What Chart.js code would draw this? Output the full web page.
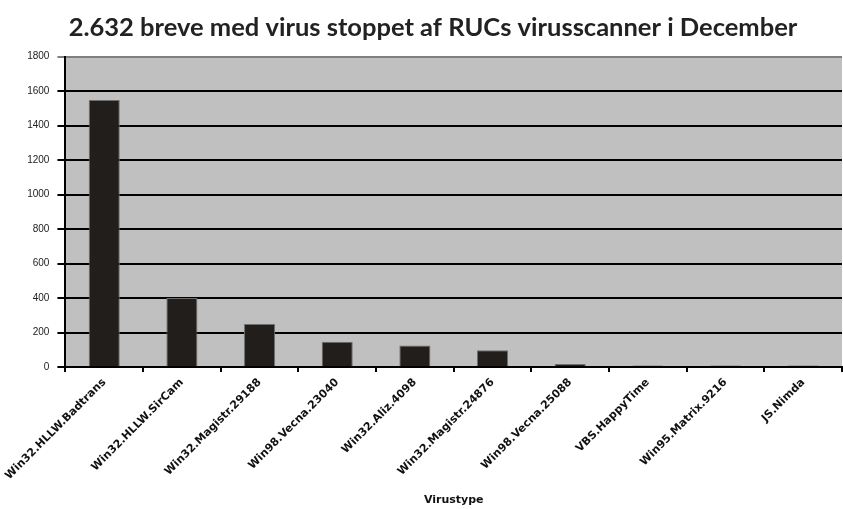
<!DOCTYPE html>
<html>
<head>
<meta charset="utf-8">
<script src="https://cdn.jsdelivr.net/npm/chart.js@4"></script>
<style>
  html, body { margin: 0; padding: 0; background: #fff; }
  #wrap { width: 843px; height: 509px; }
</style>
</head>
<body>
<div id="wrap"><canvas id="chart" width="843" height="509"></canvas></div>
<script>
const categories = ['Win32.HLLW.Badtrans', 'Win32.HLLW.SirCam', 'Win32.Magistr.29188', 'Win98.Vecna.23040',
  'Win32.Aliz.4098', 'Win32.Magistr.24876', 'Win98.Vecna.25088', 'VBS.HappyTime', 'Win95.Matrix.9216', 'JS.Nimda'];
const letters = [1548, 400, 250, 147, 124, 97, 18, 8, 8, 8];
const yTicks = [0, 200, 400, 600, 800, 1000, 1200, 1400, 1600, 1800];

// grey plot background like the old spreadsheet chart
const plotBg = {
  id: 'plotBg',
  beforeDraw(chart) {
    const { ctx, chartArea: a } = chart;
    ctx.save();
    ctx.fillStyle = '#c0c0c0';
    ctx.fillRect(a.left, a.top, a.right - a.left, a.bottom - a.top);
    ctx.restore();
  }
};

const ctx = document.getElementById('chart').getContext('2d');
new Chart(ctx, {
  type: 'bar',
  data: {
    labels: categories,
    datasets: [{
      data: letters,
      backgroundColor: '#221e1b',
      borderColor: '#6e6e6e',
      borderWidth: 1,
      barPercentage: 0.4,
      categoryPercentage: 1
    }]
  },
  options: {
    responsive: false,
    animation: false,
    layout: { padding: { left: 24, right: 1, bottom: 0 } },
    plugins: {
      legend: { display: false },
      tooltip: { enabled: false },
      title: {
        display: true,
        text: '2.632 breve med virus stoppet af RUCs virusscanner i December',
        color: '#222',
        font: { family: 'Lato', size: 25.5, weight: 'bold' },
        padding: { top: 12, bottom: 14 }
      }
    },
    scales: {
      x: {
        grid: { display: true, drawOnChartArea: false, offset: true, color: '#000', lineWidth: 2, tickLength: 5 },
        border: { color: '#000', width: 2 },
        ticks: {
          color: '#111',
          font: { family: 'DejaVu Sans', size: 11, weight: 'bold' },
          minRotation: 45, maxRotation: 45, autoSkip: false, padding: 4
        },
        title: {
          display: true, text: 'Virustype', color: '#111',
          font: { family: 'DejaVu Sans', size: 11, weight: 'bold' },
          padding: { top: 4, bottom: 2 }
        },
        afterFit(scale) { scale.height = 142; }
      },
      y: {
        min: 0, max: 1800,
        afterBuildTicks(scale) { scale.ticks = yTicks.map(v => ({ value: v })); },
        grid: {
          color: c => c.tick && c.tick.value === 1800 ? '#808080' : '#000',
          lineWidth: 2, tickLength: 8
        },
        border: { color: '#000', width: 2 },
        ticks: {
          color: '#222',
          font: { family: 'Liberation Sans', size: 10 },
          padding: 8,
          callback: v => String(v)
        },
        afterFit(scale) { scale.width = 41; }
      }
    }
  },
  plugins: [plotBg]
});
</script>
</body>
</html>
